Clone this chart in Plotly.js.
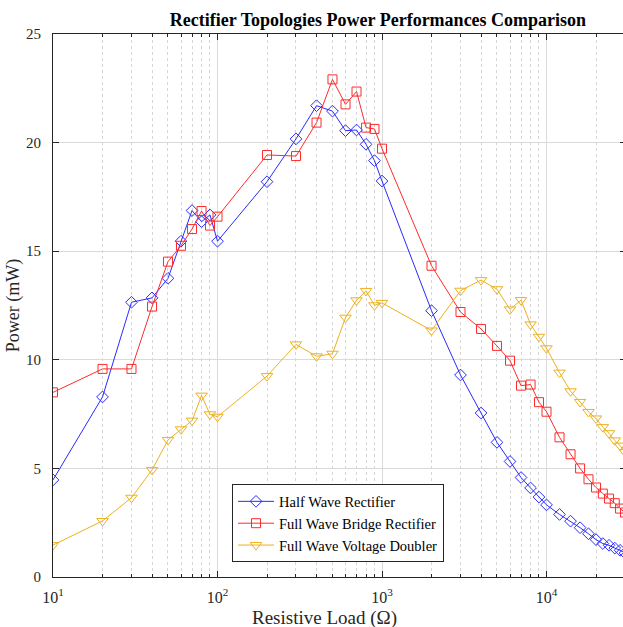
<!DOCTYPE html>
<html><head><meta charset="utf-8">
<script src="https://cdn.plot.ly/plotly-3.0.1.min.js"></script>
<style>html,body{margin:0;padding:0;overflow:hidden;background:#fff}#chart{width:626px;height:627px}</style>
</head><body><div id="chart"></div>
<script>
// Resistive load values (Ohm)
const loads = [10,20,30,40,50,60,70,80,90,100,200,300,400,500,600,700,800,900,1000,
  2000,3000,4000,5000,6000,7000,8000,9000,10000,12000,14000,16000,18000,20000,22000,24000,26000,28000,30000];
// Power (mW)
const halfWave = [4.47,8.29,12.65,12.85,13.75,15.46,16.87,16.36,16.67,15.46,18.2,20.17,21.7,21.45,20.55,20.58,19.92,19.17,18.23,
  12.26,9.3,7.55,6.2,5.32,4.58,4.1,3.68,3.32,2.88,2.57,2.27,1.99,1.72,1.54,1.46,1.33,1.23,1.1];
const fullBridge = [8.5,9.58,9.58,12.45,14.52,15.25,16.02,16.85,16.18,16.59,19.43,19.38,20.92,22.91,21.76,22.35,20.69,20.63,19.72,
  14.33,12.2,11.42,10.64,9.96,8.81,8.86,8.05,7.61,6.43,5.65,5.0,4.5,4.12,3.84,3.61,3.4,3.15,2.97];
const voltageDoubler = [1.47,2.58,3.65,4.93,6.31,6.8,7.2,8.35,7.49,7.38,9.25,10.71,10.16,10.28,11.94,12.74,13.17,12.51,12.62,
  11.35,13.18,13.67,13.25,12.32,12.75,11.63,11.06,10.53,9.41,8.55,8.06,7.6,7.3,6.9,6.62,6.29,6.05,5.75];
const seriesNames = ['Half Wave Rectifier','Full Wave Bridge Rectifier','Full Wave Voltage Doubler'];
const xTickVals = [10,100,1000,10000];
const xTickText = ['10<sup>1</sup>','10<sup>2</sup>','10<sup>3</sup>','10<sup>4</sup>'];
const yTickVals = [0,5,10,15,20,25];
const yTickText = ['0','5','10','15','20','25'];

const minorVals = [];
xTickVals.forEach(d => { for (let k = 2; k <= 9; k++) minorVals.push(k * d); });

const serif = 'Liberation Serif, Times New Roman, serif';
const axisCol = '#262626';

const traces = [
  {x: loads, y: halfWave, name: seriesNames[0], type: 'scatter', mode: 'lines+markers',
   line: {color: '#2a2aff', width: 1}, marker: {symbol: 'diamond-open', size: 9, color: '#2a2aff', line: {width: 1}}},
  {x: loads, y: fullBridge, name: seriesNames[1], type: 'scatter', mode: 'lines+markers',
   line: {color: '#ff2a2a', width: 1}, marker: {symbol: 'square-open', size: 9, color: '#ff2a2a', line: {width: 1}}},
  {x: loads, y: voltageDoubler, name: seriesNames[2], type: 'scatter', mode: 'lines+markers',
   line: {color: '#EDB120', width: 1}, marker: {symbol: 'triangle-down-open', size: 10, color: '#EDB120', line: {width: 1}}}
];

const layout = {
  width: 626, height: 627,
  margin: {l: 53, r: 0, t: 34, b: 50, pad: 0},
  paper_bgcolor: '#fff', plot_bgcolor: '#fff',
  showlegend: true,
  title: {text: '<b>Rectifier Topologies Power Performances Comparison</b>',
    font: {family: serif, size: 18, color: '#000'},
    xref: 'paper', x: (378 - 53) / 573, xanchor: 'center',
    yref: 'container', y: 1 - 20 / 627, yanchor: 'middle'},
  xaxis: {type: 'log', range: [1, 1 + 573 / 164.5],
    tickmode: 'array', tickvals: xTickVals, ticktext: xTickText,
    ticks: 'inside', ticklen: 6, tickwidth: 1, tickcolor: axisCol,
    showline: true, linecolor: axisCol, linewidth: 1, mirror: 'ticks',
    showgrid: true, gridcolor: '#dadada', gridwidth: 1,
    zeroline: false, ticklabelstandoff: 6,
    tickfont: {family: serif, size: 16, color: axisCol},
    minor: {tickmode: 'array', tickvals: minorVals, ticks: 'inside', ticklen: 3, tickcolor: axisCol,
      showgrid: true, gridcolor: '#d6d6d6', griddash: 'dot', gridwidth: 1}
  },
  yaxis: {range: [0, 25], tickmode: 'array', tickvals: yTickVals, ticktext: yTickText,
    ticks: 'inside', ticklen: 6, tickwidth: 1, tickcolor: axisCol,
    showline: true, linecolor: axisCol, linewidth: 1, mirror: 'ticks',
    showgrid: true, gridcolor: '#dadada', gridwidth: 1, zeroline: false,
    ticklabelstandoff: 8,
    tickfont: {family: serif, size: 15, color: axisCol},
    title: {text: 'Power (mW)', font: {family: serif, size: 18, color: axisCol}, standoff: 1}
  },
  legend: {x: (232 - 53) / 573, y: (576.5 - 484) / 542.5, xanchor: 'left', yanchor: 'top',
    bgcolor: '#fff', bordercolor: axisCol, borderwidth: 1,
    font: {family: serif, size: 14.5, color: '#000'}, itemwidth: 36, tracegroupgap: 0},
  annotations: [{text: 'Resistive Load (Ω)', xref: 'paper', yref: 'paper',
    x: (324 - 53) / 573, y: (576.5 - 617) / 542.5, xanchor: 'center', yanchor: 'middle',
    showarrow: false, font: {family: serif, size: 19, color: axisCol}}]
};

Plotly.newPlot('chart', traces, layout, {displayModeBar: false, staticPlot: true});
</script></body></html>
